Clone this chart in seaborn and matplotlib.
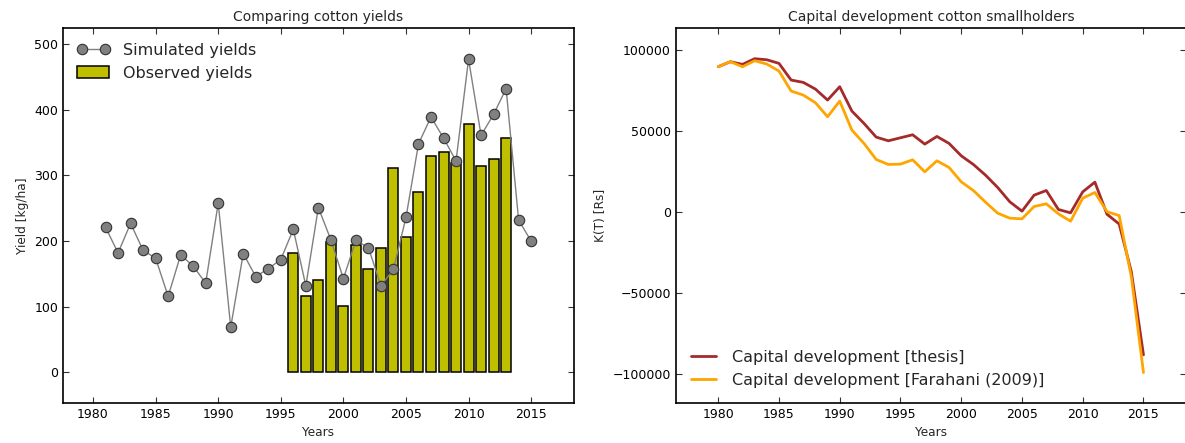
import matplotlib
matplotlib.use("Agg")
import matplotlib.pyplot as plt
import seaborn as sns
import numpy as np
import pandas as pd
from matplotlib.lines import Line2D
from matplotlib.patches import Patch

# ---------------- data ----------------
sim_years = list(range(1981, 2016))
sim_yield = [221, 182, 227, 186, 174, 116, 179, 162, 136, 258, 69, 181, 146, 158, 172,
             218, 132, 251, 202, 143, 201, 190, 132, 157, 236, 348, 389, 357, 322, 477,
             361, 393, 432, 232, 200]

obs_years = list(range(1996, 2014))
obs_yield = [182, 116, 141, 199, 101, 194, 158, 190, 311, 206, 275, 330, 335, 319, 379,
             314, 325, 357]

cap_years = list(range(1980, 2016))
cap_thesis = [89700, 92800, 91150, 94650, 94000, 91770, 81480, 80040, 75920, 69140,
              77370, 62350, 54730, 46300, 44030, 45880, 47740, 41980, 46710, 42390,
              34770, 29420, 22840, 15230, 6380, 620, 10490, 13370, 1650, -410,
              12550, 18520, -1300, -7300, -36700, -88000]
cap_farahani = [89700, 92800, 89700, 93400, 91350, 87040, 74700, 72220, 67490, 58850,
                68520, 50620, 42390, 32510, 29420, 29630, 32300, 24900, 31690, 27570,
                18720, 13370, 6170, -620, -3700, -4110, 3500, 5140, -1030, -5560,
                8640, 12140, 300, -2100, -39800, -98900]

xticks = [1980, 1985, 1990, 1995, 2000, 2005, 2010, 2015]

# ---------------- style ----------------
sns.set_style("ticks")
plt.rcParams["font.family"] = ["DejaVu Sans"]
plt.rcParams.update({
    "xtick.direction": "in", "ytick.direction": "in",
    "xtick.top": True, "ytick.right": True,
    "xtick.major.size": 4, "ytick.major.size": 4,
    "xtick.major.width": 0.8, "ytick.major.width": 0.8,
    "axes.linewidth": 1.2, "axes.edgecolor": "black",
    "xtick.color": "#333333", "ytick.color": "#333333",
    "xtick.labelcolor": "black", "ytick.labelcolor": "black",
})

fig = plt.figure(figsize=(11.85, 4.43), dpi=100)
W, H = 1185, 443
ax1 = fig.add_axes([63 / W, (H - 402.7) / H, 510.7 / W, 374.4 / H])
ax2 = fig.add_axes([675.7 / W, (H - 402.7) / H, 510.3 / W, 374.4 / H])

# ---------------- left panel ----------------
obs_df = pd.DataFrame({"year": obs_years, "yield": obs_yield})
sim_df = pd.DataFrame({"year": sim_years, "yield": sim_yield})

sns.barplot(data=obs_df, x="year", y="yield", native_scale=True, width=0.8,
            color="#bfbf00", saturation=1, edgecolor="black", linewidth=1.1,
            errorbar=None, ax=ax1, zorder=2)
sns.lineplot(data=sim_df, x="year", y="yield", color="gray", linewidth=1,
             marker="o", markersize=7.5, markerfacecolor="gray",
             markeredgecolor="#333333", markeredgewidth=0.8, ax=ax1, zorder=3)

ax1.set_xlim(1977.6, 2018.4)
ax1.set_ylim(-46, 524)
ax1.set_xticks(xticks)
ax1.set_xticklabels([str(t) for t in xticks])
ax1.set_yticks([0, 100, 200, 300, 400, 500])
ax1.tick_params(labelsize=9)
ax1.set_xlabel("Years", fontsize=8.7)
ax1.set_ylabel("Yield [kg/ha]", fontsize=8.7)
ax1.set_title("Comparing cotton yields", fontsize=10, pad=5)

h_sim = Line2D([], [], color="gray", linewidth=1, marker="o", markersize=7.5,
               markerfacecolor="gray", markeredgecolor="#333333", markeredgewidth=0.8)
h_obs = Patch(facecolor="#bfbf00", edgecolor="black", linewidth=1.1)
ax1.legend([h_sim, h_obs], ["Simulated yields", "Observed yields"], loc="upper left",
           frameon=False, fontsize=11.5, numpoints=2, handlelength=2.0,
           handletextpad=0.85, labelspacing=0.5, borderaxespad=0.5)

# ---------------- right panel ----------------
cap_df = pd.DataFrame({"year": cap_years, "thesis": cap_thesis, "farahani": cap_farahani})
sns.lineplot(data=cap_df, x="year", y="thesis", color="#a52a2a", linewidth=2,
             ax=ax2, label="Capital development [thesis]")
sns.lineplot(data=cap_df, x="year", y="farahani", color="#ffa500", linewidth=2,
             ax=ax2, label="Capital development [Farahani (2009)]")

ax2.set_xlim(1976.5, 2018.5)
ax2.set_ylim(-117500, 113400)
ax2.set_xticks(xticks)
ax2.set_xticklabels([str(t) for t in xticks])
ax2.set_yticks([-100000, -50000, 0, 50000, 100000])
ax2.set_yticklabels(["\u2212100000", "\u221250000", "0", "50000", "100000"])
ax2.tick_params(labelsize=9)
ax2.set_xlabel("Years", fontsize=8.7)
ax2.set_ylabel("K(T) [Rs]", fontsize=8.7)
ax2.set_title("Capital development cotton smallholders", fontsize=10, pad=5)
ax2.legend(loc="lower left", frameon=False, fontsize=11.5, handlelength=1.6,
           handletextpad=1.0, labelspacing=0.5, borderaxespad=0.55)

fig.savefig("out.png", dpi=100)
